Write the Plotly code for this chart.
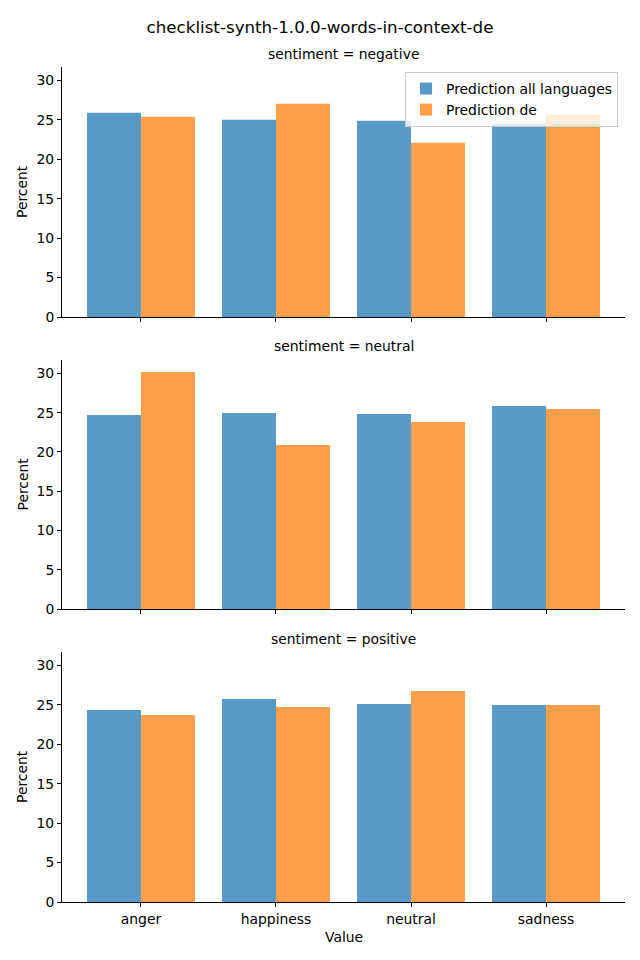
import plotly.graph_objects as go
from plotly.subplots import make_subplots

categories = ["anger", "happiness", "neutral", "sadness"]
panels = ["negative", "neutral", "positive"]
all_languages = {
    "negative": [25.9, 25.0, 24.88, 24.5],
    "neutral": [24.69, 24.95, 24.82, 25.84],
    "positive": [24.34, 25.73, 25.1, 24.97],
}
pred_de = {
    "negative": [25.39, 27.04, 22.09, 25.65],
    "neutral": [30.17, 20.87, 23.8, 25.46],
    "positive": [23.7, 24.72, 26.75, 24.97],
}
yticks = [0, 5, 10, 15, 20, 25, 30]

blue = "#5799c7"
orange = "#ff9f4a"
font = "DejaVu Sans"
FS = 13.9

OFF = 8  # page body margin
W, Hfig = 640 - OFF, 960 - OFF

fig = make_subplots(rows=3, cols=1, shared_xaxes=True, vertical_spacing=0.05)

for i, p in enumerate(panels):
    fig.add_trace(go.Bar(x=categories, y=all_languages[p], name="Prediction all languages",
                         marker=dict(color=blue, line=dict(width=0)), showlegend=(i == 0)),
                  row=i + 1, col=1)
    fig.add_trace(go.Bar(x=categories, y=pred_de[p], name="Prediction de",
                         marker=dict(color=orange, line=dict(width=0)), showlegend=(i == 0)),
                  row=i + 1, col=1)

left, right = 62 - OFF, 625 - OFF
top, bottom = 67 - OFF, 902 - OFF
H = bottom - top
doms = [(317, 67), (609, 360), (902, 652)]
title_y = [54, 346, 639]
for i, (b, t) in enumerate(doms):
    b -= OFF
    t -= OFF
    d = [(bottom - b) / H, (bottom - t) / H]
    yax = "yaxis" if i == 0 else f"yaxis{i+1}"
    xax = "xaxis" if i == 0 else f"xaxis{i+1}"
    fig.layout[yax].update(domain=d, range=[0, 31.7], tickvals=yticks, showline=True, linecolor="black",
                           linewidth=1, ticks="outside", ticklen=4, tickcolor="black", showgrid=False,
                           zeroline=False, automargin=False, tickfont=dict(size=FS))
    fig.layout[xax].update(range=[-0.585, 3.585], showline=True, linecolor="black", linewidth=1,
                           ticks="outside", ticklen=4, tickcolor="black", showgrid=False,
                           automargin=False, tickfont=dict(size=FS))
    fig.add_annotation(text=f"sentiment = {panels[i]}", xref="paper", yref="paper", x=0.5,
                       y=(bottom - (title_y[i] - OFF)) / H, yanchor="middle", showarrow=False,
                       font=dict(size=FS))
    fig.add_annotation(text="Percent", xref="paper", yref="paper", x=(22 - OFF - left) / (right - left),
                       xanchor="center", y=(d[0] + d[1]) / 2, yanchor="middle", textangle=-90,
                       showarrow=False, font=dict(size=FS))

fig.add_annotation(text="Value", xref="paper", yref="paper", x=0.5, xanchor="center",
                   y=(bottom - (937 - OFF)) / H, yanchor="middle", showarrow=False, font=dict(size=FS))

fig.update_layout(
    width=W, height=Hfig,
    margin=dict(l=left, r=W - right, t=top, b=Hfig - bottom, autoexpand=False),
    barmode="group", bargap=0.2, bargroupgap=0,
    plot_bgcolor="white", paper_bgcolor="white",
    font=dict(family=font, color="black", size=FS),
    title=dict(text="checklist-synth-1.0.0-words-in-context-de", xref="container",
               x=(320 - OFF) / W, xanchor="center",
               y=1 - (27 - OFF) / Hfig, yanchor="middle", font=dict(size=16.7)),
    legend=dict(x=(618 - OFF - left) / (right - left), xanchor="right",
                y=(bottom - (72 - OFF)) / H, yanchor="top",
                bgcolor="rgba(255,255,255,0.8)", bordercolor="#cccccc", borderwidth=1,
                font=dict(size=FS), tracegroupgap=0),
)

fig.write_html("out.html")
